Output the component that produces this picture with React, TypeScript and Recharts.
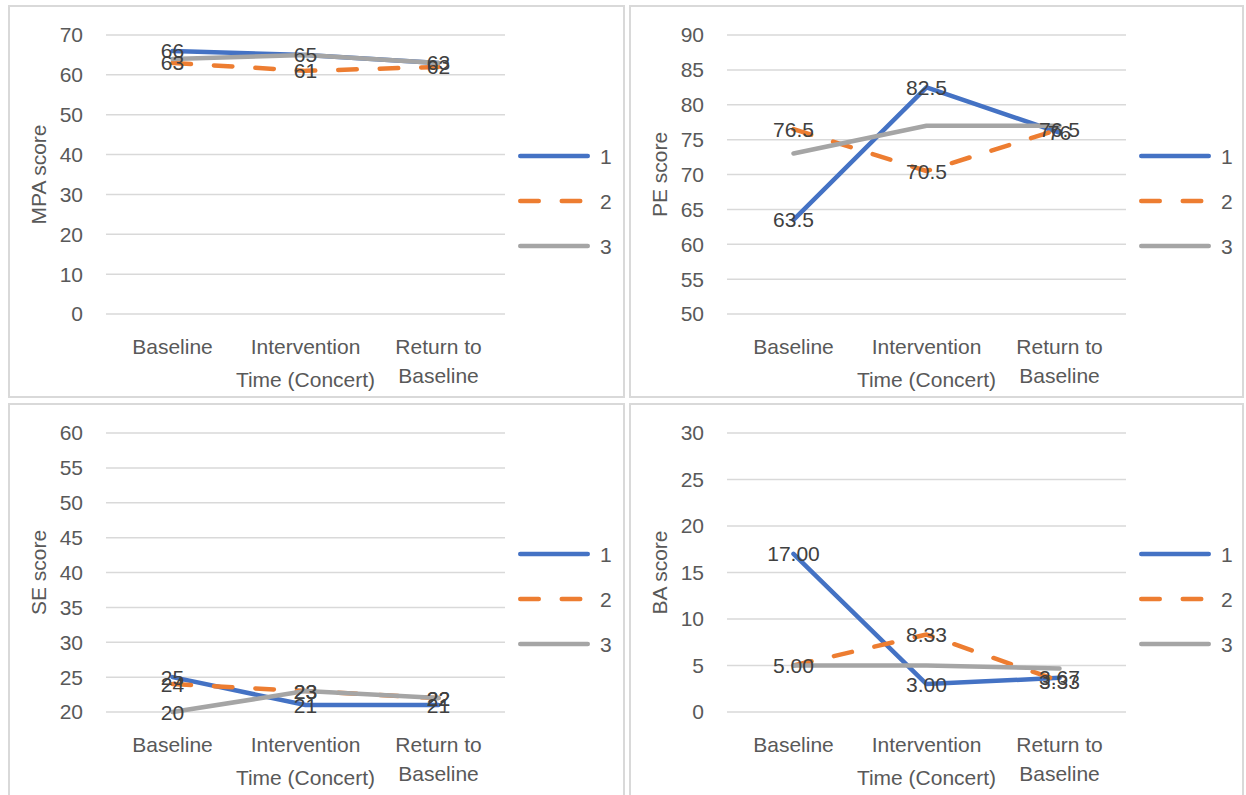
import React from 'react';
import { LineChart, Line, XAxis, YAxis, CartesianGrid, LabelList, Label } from 'recharts';

const FONT = '"Liberation Sans", Arial, sans-serif';
const BLUE = '#4472C4';
const ORANGE = '#ED7D31';
const GRAY = '#A5A5A5';

// categories
const times = ['Baseline', 'Intervention', 'Return to Baseline'];
const seriesNames = ['1', '2', '3'];

// MPA score
const mpa1 = [66, 65, 63];
const mpa2 = [63, 61, 62];
const mpa3 = [64, 65, 63];
const mpaTicks = [0, 10, 20, 30, 40, 50, 60, 70];

// PE score
const pe1 = [63.5, 82.5, 76];
const pe2 = [76.5, 70.5, 76.5];
const pe3 = [73, 77, 77];
const peTicks = [50, 55, 60, 65, 70, 75, 80, 85, 90];

// SE score
const se1 = [25, 21, 21];
const se2 = [24, 23, 22];
const se3 = [20, 23, 22];
const seTicks = [20, 25, 30, 35, 40, 45, 50, 55, 60];

// BA score
const ba1 = [17, 3, 3.67];
const ba2 = [5, 8.33, 3.33];
const ba3 = [5, 5, 4.67];
const baTicks = [0, 5, 10, 15, 20, 25, 30];

const W = 613;
const H = 389;

// split a category name into lines of at most `max` characters
function wrapLabel(text: string, max = 12): string[] {
  const out: string[] = [];
  let cur = '';
  for (const w of text.split(' ')) {
    const next = cur ? cur + ' ' + w : w;
    if (next.length > max && cur) {
      out.push(cur);
      cur = w;
    } else {
      cur = next;
    }
  }
  if (cur) out.push(cur);
  return out;
}

const TimeTick = ({ x, y, payload }: any) => {
  const lines = wrapLabel(String(payload.value));
  return (
    <text x={x} y={y + 32} textAnchor="middle" dominantBaseline="central" fill="#595959" fontSize={21} fontFamily={FONT}>
      {lines.map((l, i) => (
        <tspan key={i} x={x} dy={i === 0 ? 0 : 29}>{l}</tspan>
      ))}
    </text>
  );
};

interface PanelProps {
  title: string;
  s1: number[];
  s2: number[];
  s3: number[];
  ticks: number[];
  labelled: boolean[];
  digits?: number;
  left: number;
  top: number;
  width: number;
  height: number;
}

function ScorePanel({ title, s1, s2, s3, ticks, labelled, digits, left, top, width, height }: PanelProps) {
  const rows = times.map((t, i) => ({ time: t, s1: s1[i], s2: s2[i], s3: s3[i] }));
  const fmt = (v: number) => (digits != null ? v.toFixed(digits) : String(v));
  const colors = [BLUE, ORANGE, GRAY];

  const valueLabel = (props: any) => {
    const { x, y, value } = props;
    if (x == null || y == null) return null;
    return (
      <text x={x} y={y} textAnchor="middle" dominantBaseline="central" fill="#404040" fontSize={21} fontFamily={FONT}>
        {fmt(Number(value))}
      </text>
    );
  };

  return (
    <div
      style={{
        position: 'absolute',
        left,
        top,
        width,
        height,
        border: '2px solid #d9d9d9',
        boxSizing: 'border-box',
        background: '#fff',
        overflow: 'hidden',
      }}
    >
      <LineChart width={W} height={H} data={rows} margin={{ top: 28, right: 118, left: 36, bottom: 22 }}>
        <CartesianGrid vertical={false} stroke="#d9d9d9" strokeWidth={1.5} />
        <XAxis
          dataKey="time"
          axisLine={false}
          tickLine={false}
          tickSize={0}
          tickMargin={0}
          height={60}
          interval={0}
          padding={{ left: 66.5, right: 66.5 }}
          tick={<TimeTick />}
        >
          <Label
            content={(p: any) => {
              const vb = p.viewBox || { x: 96, y: 307, width: 399 };
              return (
                <text x={vb.x + vb.width / 2} y={vb.y + 65} textAnchor="middle" dominantBaseline="central" fill="#595959" fontSize={21} fontFamily={FONT}>
                  Time (Concert)
                </text>
              );
            }}
          />
        </XAxis>
        <YAxis
          type="number"
          width={60}
          domain={[ticks[0], ticks[ticks.length - 1]]}
          ticks={ticks}
          interval={0}
          axisLine={false}
          tickLine={false}
          tickSize={0}
          tickMargin={23}
          tick={{ fill: '#595959', fontSize: 21, fontFamily: FONT }}
        >
          <Label
            content={(p: any) => {
              const vb = p.viewBox || { y: 28, height: 279 };
              const cy = vb.y + vb.height / 2;
              return (
                <text x={28} y={cy} transform={`rotate(-90 28 ${cy})`} textAnchor="middle" dominantBaseline="central" fill="#595959" fontSize={21} fontFamily={FONT}>
                  {title}
                </text>
              );
            }}
          />
        </YAxis>
        <Line dataKey="s1" stroke={BLUE} strokeWidth={4.5} strokeLinecap="round" strokeLinejoin="round" dot={false} activeDot={false} isAnimationActive={false} />
        <Line dataKey="s2" stroke={ORANGE} strokeWidth={4.5} strokeDasharray="18.5 23" strokeLinecap="round" strokeLinejoin="round" dot={false} activeDot={false} isAnimationActive={false} />
        <Line dataKey="s3" stroke={GRAY} strokeWidth={4.5} strokeLinecap="round" strokeLinejoin="round" dot={false} activeDot={false} isAnimationActive={false} />
        {/* value labels sit above every line */}
        {['s1', 's2', 's3'].map((k, i) =>
          labelled[i] ? (
            <Line key={`lbl-${k}`} dataKey={k} stroke="none" dot={false} activeDot={false} isAnimationActive={false}>
              <LabelList dataKey={k} content={valueLabel} />
            </Line>
          ) : null
        )}
      </LineChart>
      <svg style={{ position: 'absolute', left: 500, top: 130 }} width={113} height={130}>
        {seriesNames.map((n, i) => (
          <g key={n}>
            <line
              x1={10.25}
              x2={77.75}
              y1={19 + i * 45}
              y2={19 + i * 45}
              stroke={colors[i]}
              strokeWidth={4.5}
              strokeLinecap="round"
              strokeDasharray={i === 1 ? '18.5 23' : undefined}
            />
            <text x={90} y={19 + i * 45} dominantBaseline="central" fill="#595959" fontSize={21} fontFamily={FONT}>
              {n}
            </text>
          </g>
        ))}
      </svg>
    </div>
  );
}

export default function App() {
  return (
    <div style={{ position: 'absolute', left: 0, top: 0, width: 1246, height: 795, background: '#fff', overflow: 'hidden' }}>
      <ScorePanel title="MPA score" s1={mpa1} s2={mpa2} s3={mpa3} ticks={mpaTicks} labelled={[true, true, false]} left={8} top={5} width={617} height={393} />
      <ScorePanel title="PE score" s1={pe1} s2={pe2} s3={pe3} ticks={peTicks} labelled={[true, true, false]} left={629} top={5} width={615} height={393} />
      <ScorePanel title="SE score" s1={se1} s2={se2} s3={se3} ticks={seTicks} labelled={[true, true, true]} left={8} top={403} width={617} height={400} />
      <ScorePanel title="BA score" s1={ba1} s2={ba2} s3={ba3} ticks={baTicks} labelled={[true, true, false]} digits={2} left={629} top={403} width={615} height={400} />
    </div>
  );
}
